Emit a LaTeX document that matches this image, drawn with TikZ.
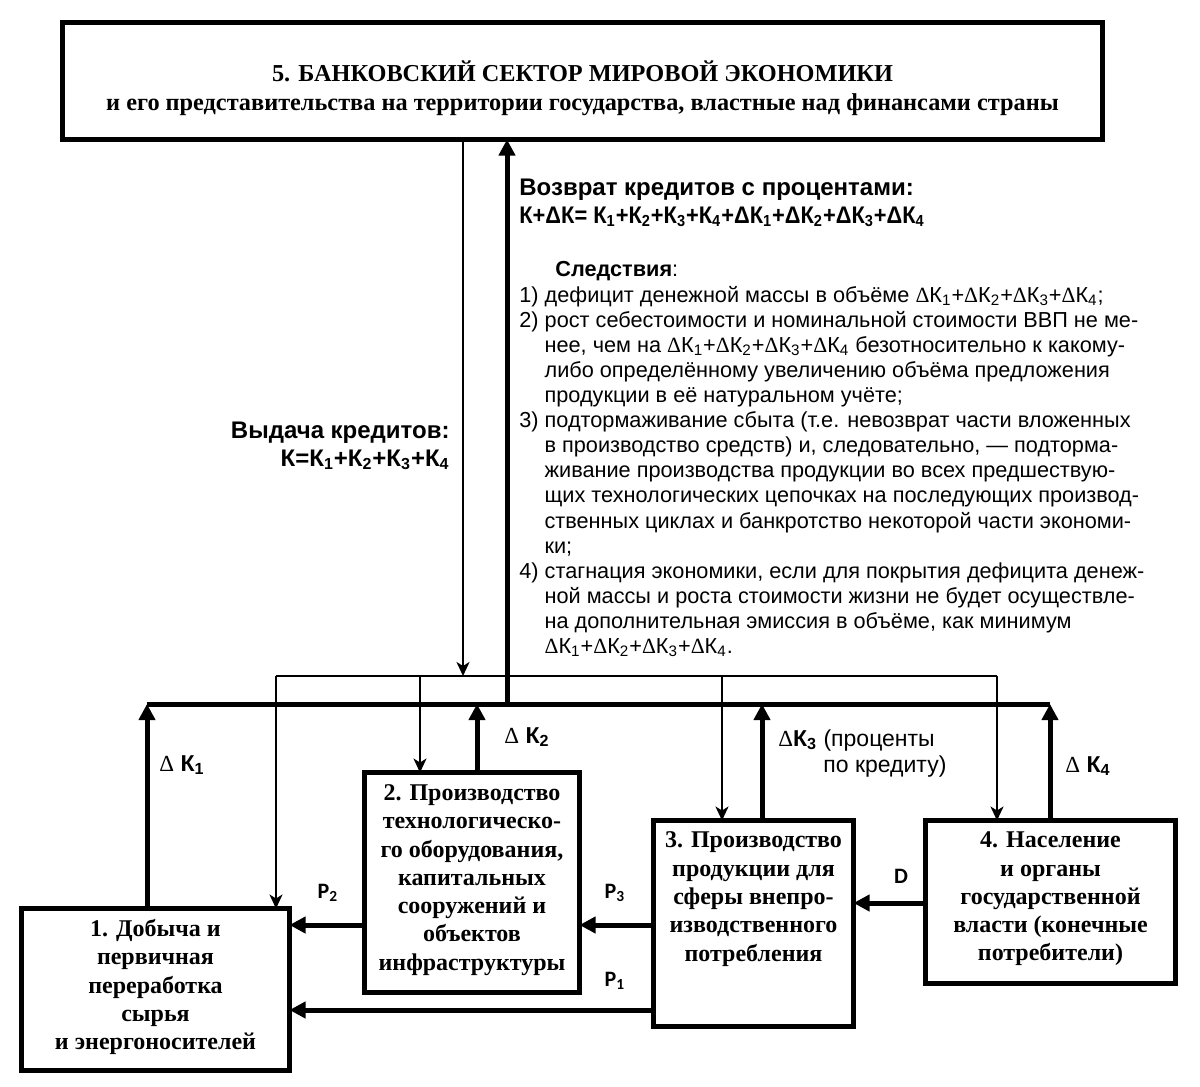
\documentclass[tikz,border=0pt]{standalone}
\usepackage{fontspec}
\setmainfont{Liberation Serif}
\newfontfamily\arialf{Liberation Sans}
\newfontfamily\arialc[FakeStretch=0.91]{Liberation Sans}
\newfontfamily\calibf{Carlito}
\usetikzlibrary{arrows.meta}
\newcommand\dk[1]{{\rmfamily\mdseries Δ}К\textsubscript{#1}}
\newcommand\dks{\dk{1}+\dk{2}+\dk{3}+\dk{4}}
\newcommand\lind{\hspace*{12.6pt}}
\begin{document}
\begin{tikzpicture}[x=0.5pt,y=-0.5pt,
  boxst/.style={draw, line width=2.5pt, rectangle, inner sep=0pt, outer sep=0pt},
  thk/.style={line width=2.5pt},
  thn/.style={line width=1pt},
  thkarr/.style={thk, -{Triangle[length=8pt,width=8pt]}},
  thnarr/.style={thn, -{Stealth[length=7pt,width=6.5pt,inset=2pt]}},
  btext/.style={font=\fontsize{12}{14.15}\selectfont\bfseries, align=center, inner sep=0pt},
  head/.style={font=\arialf\bfseries\fontsize{12}{14}\selectfont, inner sep=0pt},
  listf/.style={font=\arialf\fontsize{10.85}{12.53}\selectfont, inner sep=0pt, align=left},
  lab/.style={font=\arialf\bfseries\fontsize{11.5}{13}\selectfont, inner sep=0pt},
  plab/.style={font=\calibf\bfseries\fontsize{11}{13}\selectfont, inner sep=0pt}
]
\useasboundingbox (0,0) rectangle (1200,1087);

% boxes
\node[boxst, minimum width=520pt, minimum height=58.5pt] (b5) at (582.5,81) {};
\node[boxst, minimum width=134pt, minimum height=81pt] (b1) at (155.5,989.5) {};
\node[boxst, minimum width=107.5pt, minimum height=110pt] (b2) at (472,882.5) {};
\node[boxst, minimum width=100pt, minimum height=103pt] (b3) at (753.5,923.5) {};
\node[boxst, minimum width=125pt, minimum height=81.5pt] (b4) at (1050.5,902) {};

% box texts
\node[btext, font=\fontsize{12.15}{14.5}\selectfont\bfseries] (t5) at (582.5,88) {5. БАНКОВСКИЙ СЕКТОР МИРОВОЙ ЭКОНОМИКИ\\и его представительства на территории государства, властные над финансами страны};
\node[btext] (t1) at (155.5,987) {1. Добыча и\\первичная\\переработка\\сырья\\и энергоносителей};
\node[btext] (t2) at (472,880) {2. Производство\\технологическо-\\го оборудования,\\капитальных\\сооружений и\\объектов\\инфраструктуры};
\node[btext] (t3) at (753.5,899) {3. Производство\\продукции для\\сферы внепро-\\изводственного\\потребления};
\node[btext] (t4) at (1050.5,899) {4. Население\\и органы\\государственной\\власти (конечные\\потребители)};

% bus coordinates
\coordinate (tbL) at (276,676);
\coordinate (tbR) at (997,676);
\coordinate (tbM) at (463,676);
\coordinate (tb2) at (420,676);
\coordinate (tb3) at (722,676);
\coordinate (kbL) at (147,704);
\coordinate (kbR) at (1050,704);
\coordinate (kbM) at (507,704);
\coordinate (kb2) at (477,704);
\coordinate (kb3) at (762,704);

% thin (credits) lines
\draw[thnarr] (tbM |- b5.south) -- (tbM);
\draw[thn] (tbL) -- (tbR);
\draw[thnarr] (tbL) -- (tbL |- b1.north);
\draw[thnarr] (tb2) -- (tb2 |- b2.north);
\draw[thnarr] (tb3) -- (tb3 |- b3.north);
\draw[thnarr] (tbR) -- (tbR |- b4.north);

% thick (returns) lines
\draw[thk] (kbL) -- (kbR);
\draw[thkarr] (kbM) -- (kbM |- b5.south);
\draw[thkarr] (kbL |- b1.north) -- (kbL);
\draw[thkarr] (kb2 |- b2.north) -- (kb2);
\draw[thkarr] (kb3 |- b3.north) -- (kb3);
\draw[thkarr] (kbR |- b4.north) -- (kbR);

% product flows
\draw[thkarr] (b2.west |- 0,925) -- (b1.east |- 0,925);
\draw[thkarr] (b3.west |- 0,925) -- (b2.east |- 0,925);
\draw[thkarr] (b3.west |- 0,1010) -- (b1.east |- 0,1010);
\draw[thkarr] (b4.west |- 0,903) -- (b3.east |- 0,903);

% labels
\node[plab] (p2) at (328,893) {P\textsubscript{2}};
\node[plab] (p3) at (615,893) {P\textsubscript{3}};
\node[plab] (p1) at (615,981) {P\textsubscript{1}};
\node[plab] (dd) at (901,876) {D};
\node[lab] (dk1) at (182,765) {{\rmfamily\mdseries Δ} К\textsubscript{1}};
\node[lab] (dk2) at (527,737) {{\rmfamily\mdseries Δ} К\textsubscript{2}};
\node[lab] (dk4) at (1088,766) {{\rmfamily\mdseries Δ} К\textsubscript{4}};
\node[listf, anchor=north west, font=\arialf\fontsize{11.5}{13}\selectfont] (dk3) at (778,729) {{\rmfamily Δ}\textbf{К\textsubscript{3}} (проценты\\\hspace*{22.5pt}по кредиту)};

% issue of credits
\node[head, anchor=base east] (v1) at (450,438) {Выдача кредитов:};
\node[head, anchor=base east] (v2) at (450,466) {К=К\textsubscript{1}+К\textsubscript{2}+К\textsubscript{3}+К\textsubscript{4}};

% return of credits
\node[head, anchor=base west] (r1) at (519,195) {Возврат кредитов с процентами:};
\node[head, anchor=base west, font=\arialc\bfseries\fontsize{12}{14}\selectfont] (r2) at (519,223) {К+ΔК= К\textsubscript{1}+К\textsubscript{2}+К\textsubscript{3}+К\textsubscript{4}+ΔК\textsubscript{1}+ΔК\textsubscript{2}+ΔК\textsubscript{3}+ΔК\textsubscript{4}};

\node[listf, anchor=base west] (s0) at (555,276) {\textbf{Следствия}:};
\node[listf, anchor=north west] (s1) at (519,286) {1) дефицит денежной массы в объёме \dks;\\
2) рост себестоимости и номинальной стоимости ВВП не ме-\\
\lind нее, чем на \dks{} безотносительно к какому-\\
\lind либо определённому увеличению объёма предложения\\
\lind продукции в её натуральном учёте;\\
3) подтормаживание сбыта (т.е. невозврат части вложенных\\
\lind в производство средств) и, следовательно, — подторма-\\
\lind живание производства продукции во всех предшествую-\\
\lind щих технологических цепочках на последующих производ-\\
\lind ственных циклах и банкротство некоторой части экономи-\\
\lind ки;\\
4) стагнация экономики, если для покрытия дефицита денеж-\\
\lind ной массы и роста стоимости жизни не будет осуществле-\\
\lind на дополнительная эмиссия в объёме, как минимум\\
\lind \dks.};
\end{tikzpicture}
\end{document}
